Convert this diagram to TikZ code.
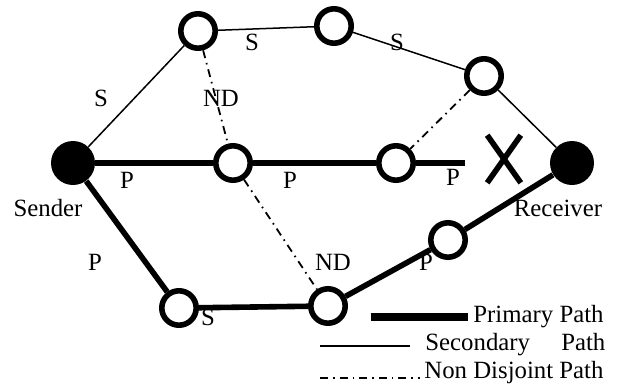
\documentclass[tikz,border=0pt]{standalone}
\usepackage{fontspec}
\setmainfont{Liberation Serif}
\usetikzlibrary{shapes.misc,calc}

\begin{document}
\begin{tikzpicture}[x=0.5pt,y=-0.5pt,
  every node/.style={font=\fontsize{12.4}{14}\selectfont,inner sep=0.5pt},
  relay/.style={circle,draw,line width=2.8pt,fill=white,minimum size=17.2pt,inner sep=0pt},
  endpoint/.style={circle,fill=black,minimum size=22pt,inner sep=0pt},
  primary/.style={line width=2.8pt},
  secondary/.style={line width=0.75pt},
  nondisjoint/.style={line width=0.9pt,dash pattern=on 4pt off 2.5pt on 0.8pt off 2.5pt}]
\useasboundingbox (0,0) rectangle (618,387);
% end points and relays
\node [endpoint] (Sender) at (73,163) {};
\node [endpoint] (Receiver) at (572,163) {};
\node [relay] (TopLeft) at (198,31) {};
\node [relay] (TopMid) at (334,26) {};
\node [relay] (TopRight) at (484,76) {};
\node [relay] (MidLeft) at (233,163) {};
\node [relay] (MidRight) at (396,163) {};
\node [relay] (LowLeft) at (179,308) {};
\node [relay] (LowMid) at (328,306) {};
\node [relay] (LowRight) at (448,240) {};
\coordinate (Cut) at (465,163);
\node [cross out,draw,line width=2.8pt,minimum width=14pt,minimum height=21pt,inner sep=0pt] (Broken) at (504,159) {};
% secondary path
\draw [secondary] (Sender) -- (TopLeft) -- (TopMid) -- (TopRight) -- (Receiver);
% non disjoint links
\draw [nondisjoint] (TopLeft) -- (MidLeft);
\draw [nondisjoint] (TopRight) -- (MidRight);
\draw [nondisjoint] (MidLeft) -- (LowMid);
% primary paths
\draw [primary] (Sender) -- (MidLeft) -- (MidRight) -- (Cut);
\draw [primary] (Sender) -- (LowLeft) -- (LowMid) -- (LowRight) -- (Receiver);
% labels
\node (LabS1) at (101,98) {S};
\node (LabS2) at (252,42) {S};
\node (LabS3) at (397,42) {S};
\node (LabND1) at (221,98) {ND};
\node (LabP1) at (127,180) {P};
\node (LabP2) at (290,180) {P};
\node (LabP3) at (453,177) {P};
\node (LabP4) at (95,262) {P};
\node (LabS4) at (208,317) {S};
\node (LabND2) at (333,262) {ND};
\node (LabP5) at (426,262) {P};
\node (SenderText) at (48,208) {Sender};
\node (ReceiverText) at (558,208) {Receiver};
% legend
\node [anchor=west,inner sep=0pt] (LegPrimary) at (473,317) {Primary Path};
\node [anchor=west,inner sep=0pt] (LegSecondary) at (425,345) {\makebox[90pt][s]{Secondary\hfill Path}};
\node [anchor=west,inner sep=0pt] (LegNonDisjoint) at (424,373) {Non Disjoint Path};
\coordinate (LegPrimaryStart) at (371,317);
\coordinate (LegSecondaryStart) at (320,346);
\coordinate (LegNonDisjointStart) at (320,378);
\draw [line width=4pt] (LegPrimaryStart) -- ($(LegPrimary.west)+(-5,0)$);
\draw [secondary] (LegSecondaryStart) -- ($(LegSecondary.west)+(-15,1)$);
\draw [nondisjoint] (LegNonDisjointStart) -- ($(LegNonDisjoint.west)+(-4,5)$);
\end{tikzpicture}
\end{document}
